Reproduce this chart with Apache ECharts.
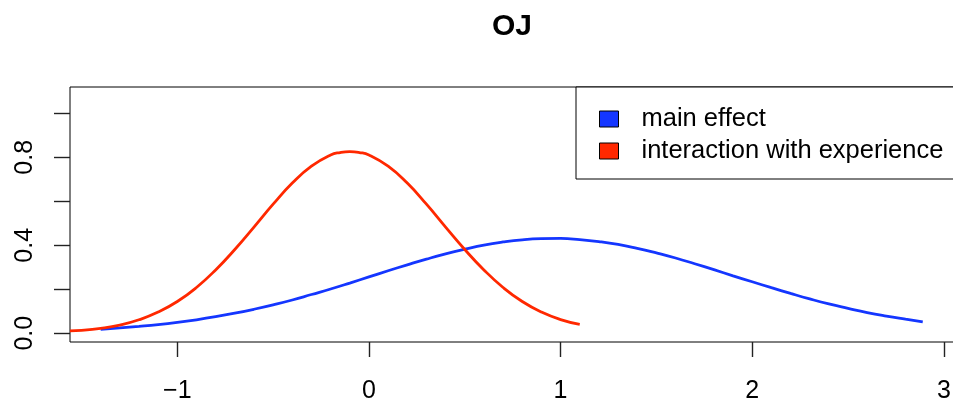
<!DOCTYPE html>
<html>
<head>
<meta charset="utf-8">
<script src="https://cdn.jsdelivr.net/npm/echarts@6/dist/echarts.min.js"></script>
<style>html,body{margin:0;padding:0;background:#fff;overflow:hidden}#chart{width:953px;height:407px}</style>
</head>
<body>
<div id="chart"></div>
<script>
var titleText = 'OJ';
var seriesNames = ['main effect', 'interaction with experience'];

var mainX = [-1.4,-1.3,-1.2,-1.1,-1.0,-0.9,-0.8,-0.7,-0.6,-0.5,-0.4,-0.3,-0.2,-0.1,0.0,0.1,0.2,0.3,0.4,0.5,0.6,0.7,0.8,0.9,1.0,1.1,1.2,1.3,1.4,1.5,1.6,1.7,1.8,1.9,2.0,2.1,2.2,2.3,2.4,2.5,2.6,2.7,2.8,2.89];
var mainY = [0.018,0.024,0.031,0.039,0.049,0.061,0.075,0.091,0.109,0.129,0.151,0.176,0.201,0.228,0.256,0.284,0.311,0.337,0.361,0.382,0.401,0.415,0.425,0.430,0.431,0.426,0.417,0.404,0.386,0.365,0.342,0.316,0.289,0.261,0.234,0.207,0.181,0.156,0.133,0.113,0.094,0.078,0.064,0.052];

var interX = [-1.56,-1.5,-1.4,-1.3,-1.2,-1.1,-1.0,-0.9,-0.8,-0.7,-0.6,-0.5,-0.4,-0.3,-0.2,-0.15,-0.1,-0.05,0.0,0.1,0.2,0.3,0.4,0.5,0.6,0.7,0.8,0.9,1.0,1.1];
var interY = [0.011,0.013,0.022,0.037,0.061,0.096,0.144,0.208,0.288,0.381,0.483,0.587,0.683,0.760,0.811,0.822,0.826,0.822,0.811,0.760,0.683,0.587,0.483,0.381,0.288,0.208,0.144,0.096,0.062,0.040];

var xTicks = [-1, 0, 1, 2, 3];
var yTicks = [0, 0.2, 0.4, 0.6, 0.8, 1.0];
var yLabels = [0, 0.4, 0.8];

function pairs(xs, ys) { return xs.map(function (x, i) { return [x, ys[i]]; }); }

var FONT = '"Liberation Sans", Arial, Helvetica, sans-serif';
var chart = echarts.init(document.getElementById('chart'), null, {renderer: 'canvas'});
chart.setOption({
  animation: false,
  backgroundColor: '#fff',
  title: {
    text: titleText,
    left: 507, top: 7, textAlign: 'center',
    textStyle: {fontFamily: FONT, fontSize: 30, fontWeight: 'bold', color: '#000'}
  },
  grid: {
    left: 70, top: 87, height: 255, width: 893,
    outerBoundsMode: 'none', containLabel: false,
    show: true, borderColor: '#000', borderWidth: 1, backgroundColor: 'transparent'
  },
  legend: {
    orient: 'vertical', left: 576, top: 87,
    padding: [16, 60, 12, 23], itemGap: 0,
    itemWidth: 19, itemHeight: 16, icon: 'rect',
    borderColor: '#000', borderWidth: 1, backgroundColor: '#fff', borderRadius: 0,
    itemStyle: {borderColor: '#000', borderWidth: 1},
    textStyle: {fontFamily: FONT, fontSize: 25.5, lineHeight: 32, color: '#000', padding: [0, 0, 0, 18]},
    data: seriesNames
  },
  xAxis: {
    type: 'value', min: -1.56, max: 3.1,
    axisLine: {show: false, onZero: false},
    splitLine: {show: false},
    axisTick: {show: true, inside: false, length: 15, lineStyle: {color: '#222', width: 1.4}, customValues: xTicks},
    axisLabel: {fontFamily: FONT, fontSize: 25, color: '#000', margin: 37, customValues: xTicks,
      formatter: function (v) { return v < 0 ? '\u2212' + Math.abs(v) : String(v); }}
  },
  yAxis: {
    type: 'value', min: -0.04, max: 1.12, position: 'left',
    axisLine: {show: false, onZero: false},
    splitLine: {show: false},
    axisTick: {show: true, inside: false, length: 16, lineStyle: {color: '#222', width: 1.4}, customValues: yTicks},
    axisLabel: {fontFamily: FONT, fontSize: 25, color: '#000', margin: 32, rotate: 90, customValues: yLabels,
      formatter: function (v) { return v.toFixed(1); }}
  },
  series: [
    {name: seriesNames[0], type: 'line', data: pairs(mainX, mainY), smooth: true, showSymbol: false,
      color: '#1436ff', lineStyle: {width: 2.8, color: '#1436ff'}, z: 2},
    {name: seriesNames[1], type: 'line', data: pairs(interX, interY), smooth: true, showSymbol: false,
      color: '#ff2800', lineStyle: {width: 2.8, color: '#ff2800'}, z: 3}
  ]
});
</script>
</body>
</html>
